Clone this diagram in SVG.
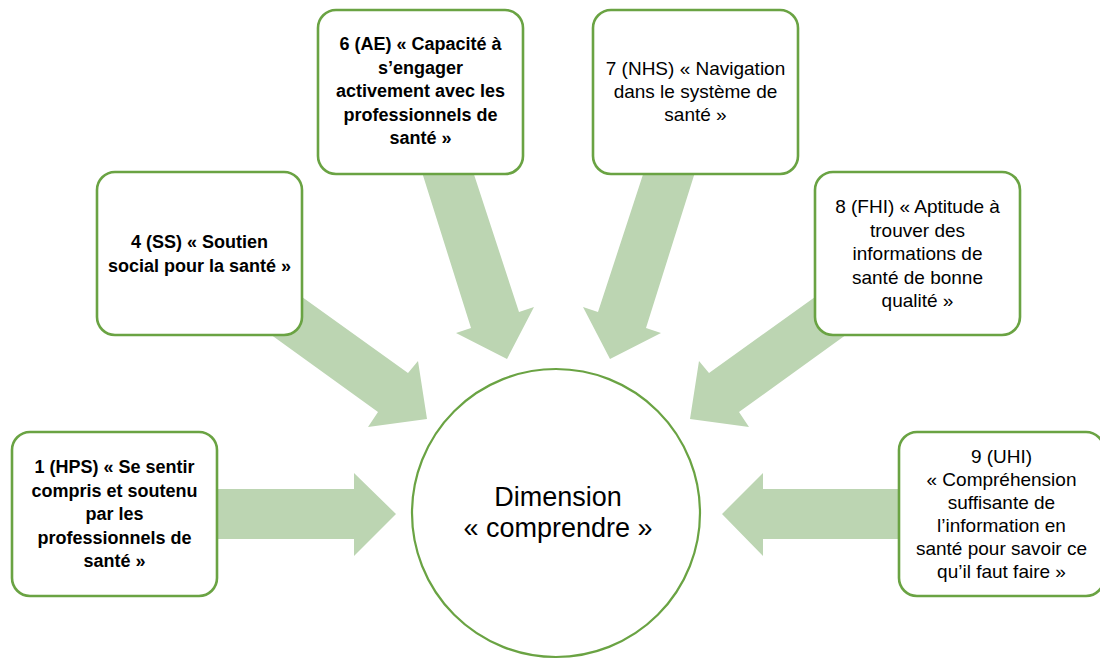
<svg xmlns="http://www.w3.org/2000/svg" width="1100" height="661" viewBox="0 0 1100 661">
<style>
.arrow{fill:#BCD5B2;stroke:none}
.box{fill:#FFFFFF;stroke:#6AA343;stroke-width:2.6}
.circ{fill:#FFFFFF;stroke:#6AA343;stroke-width:2.2}
.b{font-family:"Liberation Sans",Arial,sans-serif;font-size:18px;font-weight:bold;fill:#000;text-anchor:middle}
.r{font-family:"Liberation Sans",Arial,sans-serif;font-size:19px;fill:#000;text-anchor:middle}
.c{font-family:"Liberation Sans",Arial,sans-serif;font-size:27px;fill:#000;text-anchor:middle}
</style>
<rect width="1100" height="661" fill="#FFFFFF"/>
<g id="connectors">
<polygon class="arrow" points="200,489 354,489 354,473 396,514 354,556 354,539 200,539"/>
<polygon class="arrow" points="910,489 763,489 763,473 722,514 763,556 763,539 910,539"/>
<polygon class="arrow" points="249,259 408,373 418,361 427,419 368,427 378,412 220,298"/>
<polygon class="arrow" points="868,259 709,373 699,361 690,419 749,427 739,412 897,298"/>
<polygon class="arrow" points="415,150 466,150 519,312 534,307 507,359 456,333 471,328"/>
<polygon class="arrow" points="651,150 702,150 646,328 661,333 610,359 583,307 598,312"/>
</g>
<g id="center">
<circle class="circ" cx="556" cy="513" r="144"/>
<text class="c" x="558" y="506">Dimension</text>
<text class="c" x="558" y="537">« comprendre »</text>
</g>
<g id="node1">
<rect class="box" x="12" y="432" width="205" height="164" rx="18"/>
<text class="b" x="114.5" y="473">1 (HPS) « Se sentir</text>
<text class="b" x="114.5" y="496.5">compris et soutenu</text>
<text class="b" x="114.5" y="520">par les</text>
<text class="b" x="114.5" y="543.5">professionnels de</text>
<text class="b" x="114.5" y="567">santé »</text>
</g>
<g id="node4">
<rect class="box" x="97" y="172" width="205" height="163" rx="18"/>
<text class="b" x="199.5" y="248">4 (SS) « Soutien</text>
<text class="b" x="199.5" y="272">social pour la santé »</text>
</g>
<g id="node6">
<rect class="box" x="318" y="10" width="205" height="164" rx="18"/>
<text class="b" x="420.5" y="50">6 (AE) « Capacité à</text>
<text class="b" x="420.5" y="73.5">s’engager</text>
<text class="b" x="420.5" y="97">activement avec les</text>
<text class="b" x="420.5" y="120.5">professionnels de</text>
<text class="b" x="420.5" y="144">santé »</text>
</g>
<g id="node7">
<rect class="box" x="593" y="10" width="205" height="164" rx="18"/>
<text class="r" x="695.5" y="75">7 (NHS) « Navigation</text>
<text class="r" x="695.5" y="98">dans le système de</text>
<text class="r" x="695.5" y="121">santé »</text>
</g>
<g id="node8">
<rect class="box" x="815" y="172" width="205" height="163" rx="18"/>
<text class="r" x="917.5" y="213">8 (FHI) « Aptitude à</text>
<text class="r" x="917.5" y="236.5">trouver des</text>
<text class="r" x="917.5" y="260">informations de</text>
<text class="r" x="917.5" y="283.5">santé de bonne</text>
<text class="r" x="917.5" y="307">qualité »</text>
</g>
<g id="node9">
<rect class="box" x="899" y="432" width="205" height="164" rx="18"/>
<text class="r" x="1001.5" y="463">9 (UHI)</text>
<text class="r" x="1001.5" y="486">« Compréhension</text>
<text class="r" x="1001.5" y="509">suffisante de</text>
<text class="r" x="1001.5" y="532">l’information en</text>
<text class="r" x="1001.5" y="555">santé pour savoir ce</text>
<text class="r" x="1001.5" y="578">qu’il faut faire »</text>
</g>
</svg>
